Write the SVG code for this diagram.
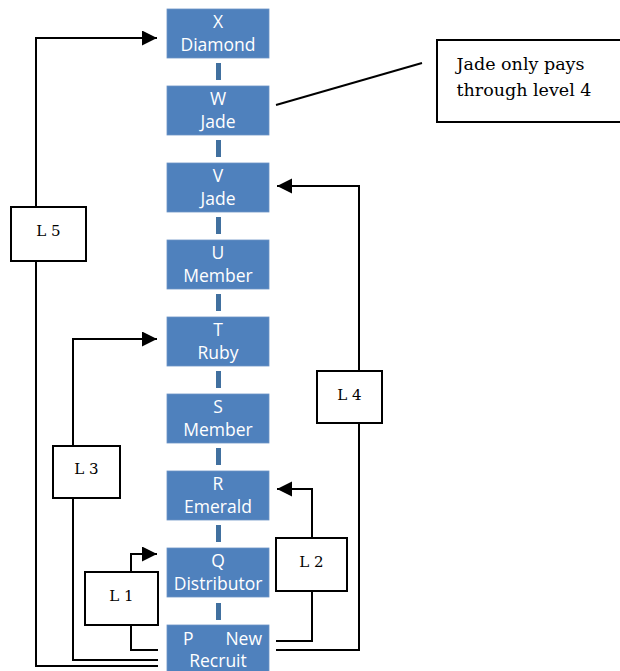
<svg xmlns="http://www.w3.org/2000/svg" width="620" height="671" viewBox="0 0 620 671">
<style>
.box{fill:#4F81BD;stroke:#6B93C6;stroke-width:0.8}
.bar{fill:#41709F}
.bt{font-family:"Open Sans","Liberation Sans",sans-serif;font-size:17.5px;fill:#FFFFFF;text-anchor:middle}
.ln{fill:none;stroke:#000;stroke-width:2}
.lb{fill:#FFFFFF;stroke:#000;stroke-width:2}
.lt{font-family:"DejaVu Serif","Liberation Serif",serif;font-size:15px;fill:#000;text-anchor:middle}
.ct{font-family:"DejaVu Serif","Liberation Serif",serif;font-size:17.5px;fill:#000}
</style>
<defs>
<marker id="ah" markerUnits="userSpaceOnUse" markerWidth="16" markerHeight="16" refX="15" refY="7.5" orient="auto" viewBox="0 0 16 16">
<path d="M0,0 L15,7.5 L0,15 Z" fill="#000"/>
</marker>
</defs>
<rect width="620" height="671" fill="#FFFFFF"/>
<g id="bars">
<rect class="bar" x="216" y="63" width="5" height="17"/>
<rect class="bar" x="216" y="140" width="5" height="17"/>
<rect class="bar" x="216" y="217" width="5" height="17"/>
<rect class="bar" x="216" y="294" width="5" height="17"/>
<rect class="bar" x="216" y="371" width="5" height="17"/>
<rect class="bar" x="216" y="448" width="5" height="17"/>
<rect class="bar" x="216" y="525" width="5" height="17"/>
<rect class="bar" x="216" y="603" width="5" height="17"/>
</g>
<g id="nodeX"><rect class="box" x="167" y="9" width="102" height="49"/><text class="bt" x="218" y="28">X</text><text class="bt" x="218" y="50.5">Diamond</text></g>
<g id="nodeW"><rect class="box" x="167" y="86" width="102" height="49"/><text class="bt" x="218" y="105">W</text><text class="bt" x="218" y="127.5">Jade</text></g>
<g id="nodeV"><rect class="box" x="167" y="163" width="102" height="49"/><text class="bt" x="218" y="182">V</text><text class="bt" x="218" y="204.5">Jade</text></g>
<g id="nodeU"><rect class="box" x="167" y="240" width="102" height="49"/><text class="bt" x="218" y="259">U</text><text class="bt" x="218" y="281.5">Member</text></g>
<g id="nodeT"><rect class="box" x="167" y="317" width="102" height="49"/><text class="bt" x="218" y="336">T</text><text class="bt" x="218" y="358.5">Ruby</text></g>
<g id="nodeS"><rect class="box" x="167" y="394" width="102" height="49"/><text class="bt" x="218" y="413">S</text><text class="bt" x="218" y="435.5">Member</text></g>
<g id="nodeR"><rect class="box" x="167" y="471" width="102" height="49"/><text class="bt" x="218" y="490">R</text><text class="bt" x="218" y="512.5">Emerald</text></g>
<g id="nodeQ"><rect class="box" x="167" y="548" width="102" height="49"/><text class="bt" x="218" y="567">Q</text><text class="bt" x="218" y="589.5">Distributor</text></g>
<g id="nodeP"><rect class="box" x="167" y="625" width="102" height="49"/><text class="bt" x="183" y="645" style="text-anchor:start">P</text><text class="bt" x="262" y="645" style="text-anchor:end">New</text><text class="bt" x="218" y="667">Recruit</text></g>
<g id="connectors">
<path class="ln" d="M158,666 H36 V38 H157" marker-end="url(#ah)"/>
<path class="ln" d="M158,660 H73 V339 H157" marker-end="url(#ah)"/>
<path class="ln" d="M158,650 H131 V554 H157" marker-end="url(#ah)"/>
<path class="ln" d="M276,641 H312 V489 H277" marker-end="url(#ah)"/>
<path class="ln" d="M276,650 H359 V186 H277" marker-end="url(#ah)"/>
<path class="ln" d="M276,105 L422,63"/>
</g>
<g id="L5"><rect class="lb" x="11" y="207" width="75" height="54"/><text class="lt" x="48.5" y="236">L 5</text></g>
<g id="L3"><rect class="lb" x="53" y="446" width="67" height="52"/><text class="lt" x="86.5" y="474">L 3</text></g>
<g id="L1"><rect class="lb" x="85" y="572" width="73" height="53"/><text class="lt" x="121.5" y="601">L 1</text></g>
<g id="L2"><rect class="lb" x="276" y="538" width="71" height="53"/><text class="lt" x="311.5" y="567">L 2</text></g>
<g id="L4"><rect class="lb" x="317" y="371" width="65" height="52"/><text class="lt" x="349.5" y="400">L 4</text></g>
<g id="callout"><rect class="lb" x="437" y="40" width="190" height="82"/><text class="ct" x="456.5" y="69.5">Jade only pays</text><text class="ct" x="456.5" y="95.5">through level 4</text></g>
</svg>
